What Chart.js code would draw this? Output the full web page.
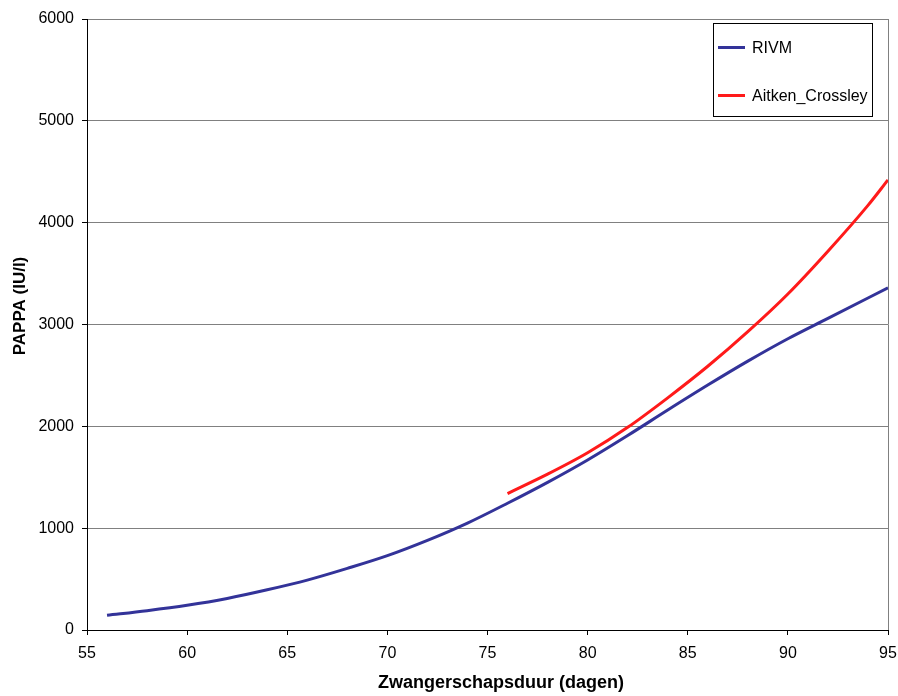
<!DOCTYPE html>
<html>
<head>
<meta charset="utf-8">
<title>PAPPA</title>
<script src="https://cdn.jsdelivr.net/npm/chart.js@4.4.1/dist/chart.umd.min.js"></script>
<style>
    body { margin: 0; background: #fff; }
    #wrap { width: 898px; height: 696px; }
</style>
</head>
<body>
<div id="wrap"><canvas id="myChart" width="898" height="696"></canvas></div>
<script>
// zwangerschapsduur (dagen) en PAPPA (IU/l)
const rivmDagen = [56, 58, 60, 62, 64, 66, 68, 70, 72, 74, 76, 78, 80, 82, 84, 86, 88, 90, 92, 94, 95];
const rivmWaarden = [145, 190, 243, 310, 395, 490, 605, 730, 880, 1050, 1245, 1450, 1670, 1910, 2160, 2405, 2640, 2860, 3060, 3260, 3360];
const aitkenDagen = [76, 78, 80, 82, 84, 86, 88, 90, 92, 94, 95];
const aitkenWaarden = [1340, 1530, 1740, 1990, 2280, 2590, 2930, 3300, 3720, 4170, 4420];
const xTicks = [55, 60, 65, 70, 75, 80, 85, 90, 95];
const yTicks = [0, 1000, 2000, 3000, 4000, 5000, 6000];
const xTitel = 'Zwangerschapsduur (dagen)';
const yTitel = 'PAPPA (IU/l)';

const fontFamily = '"Liberation Sans", Arial, sans-serif';

function toPoints(dagen, waarden) {
    return dagen.map((d, i) => ({x: d, y: waarden[i]}));
}

// legenda in een kader rechtsboven in het plotgebied
const legendBox = {
    id: 'legendBox',
    afterDraw(chart) {
        const ctx = chart.ctx;
        const area = chart.chartArea;
        const x0 = area.right - 175;
        const y0 = area.top + 4.5;
        ctx.save();
        ctx.strokeStyle = '#000';
        ctx.lineWidth = 1;
        ctx.strokeRect(Math.round(x0) + 0.5, y0, 159, 93);
        ctx.font = '16px ' + fontFamily;
        ctx.textBaseline = 'middle';
        chart.data.datasets.forEach((ds, i) => {
            const y = y0 + 24 + i * 48;
            ctx.strokeStyle = ds.borderColor;
            ctx.lineWidth = 3;
            ctx.beginPath();
            ctx.moveTo(x0 + 5, y);
            ctx.lineTo(x0 + 32, y);
            ctx.stroke();
            ctx.fillStyle = '#000';
            ctx.fillText(ds.label, x0 + 39, y + 1);
        });
        ctx.restore();
    }
};

// grijze rand rechts van het plotgebied
const rightEdge = {
    id: 'rightEdge',
    beforeDatasetsDraw(chart) {
        const ctx = chart.ctx;
        const area = chart.chartArea;
        ctx.save();
        ctx.strokeStyle = '#808080';
        ctx.lineWidth = 1;
        ctx.beginPath();
        ctx.moveTo(Math.round(area.right) + 0.5, area.top);
        ctx.lineTo(Math.round(area.right) + 0.5, area.bottom);
        ctx.stroke();
        ctx.restore();
    }
};

// astitels
const axisTitles = {
    id: 'axisTitles',
    afterDraw(chart) {
        const ctx = chart.ctx;
        const area = chart.chartArea;
        ctx.save();
        ctx.fillStyle = '#000';
        ctx.textAlign = 'center';
        ctx.textBaseline = 'alphabetic';
        ctx.font = 'bold 18px ' + fontFamily;
        ctx.fillText(xTitel, area.left + 414, 688);
        ctx.font = 'bold 17px ' + fontFamily;
        ctx.translate(25, area.top + 287);
        ctx.rotate(-Math.PI / 2);
        ctx.fillText(yTitel, 0, 0);
        ctx.restore();
    }
};

new Chart('myChart', {
    type: 'line',
    data: {
        datasets: [{
            label: 'RIVM',
            data: toPoints(rivmDagen, rivmWaarden),
            borderColor: '#333399',
            borderWidth: 3,
            pointRadius: 0,
            cubicInterpolationMode: 'monotone'
        }, {
            label: 'Aitken_Crossley',
            data: toPoints(aitkenDagen, aitkenWaarden),
            borderColor: '#ff1a1a',
            borderWidth: 3,
            pointRadius: 0,
            cubicInterpolationMode: 'monotone'
        }]
    },
    options: {
        responsive: false,
        animation: false,
        layout: {padding: {top: 19, right: 10, left: 0, bottom: 0}},
        plugins: {
            legend: {display: false},
            tooltip: {enabled: false}
        },
        scales: {
            x: {
                type: 'linear',
                min: 55,
                max: 95,
                afterBuildTicks: scale => { scale.ticks = xTicks.map(v => ({value: v})); },
                afterFit: scale => {
                    scale.height = 66;
                    scale.paddingLeft = 0;
                    scale.paddingRight = 0;
                },
                grid: {drawOnChartArea: false, color: '#000', tickLength: 5},
                border: {color: '#000', width: 1},
                ticks: {
                    color: '#000',
                    font: {family: fontFamily, size: 16},
                    padding: 9,
                    maxRotation: 0,
                    callback: v => String(v)
                }
            },
            y: {
                min: 0,
                max: 6000,
                afterBuildTicks: scale => { scale.ticks = yTicks.map(v => ({value: v})); },
                afterFit: scale => {
                    scale.width = 87;
                    scale.paddingTop = 0;
                    scale.paddingBottom = 0;
                },
                grid: {color: '#808080', tickColor: '#000', tickLength: 5},
                border: {color: '#000', width: 1},
                ticks: {
                    color: '#000',
                    font: {family: fontFamily, size: 16},
                    padding: 8,
                    callback: v => String(v)
                }
            }
        }
    },
    plugins: [rightEdge, legendBox, axisTitles]
});
</script>
</body>
</html>
